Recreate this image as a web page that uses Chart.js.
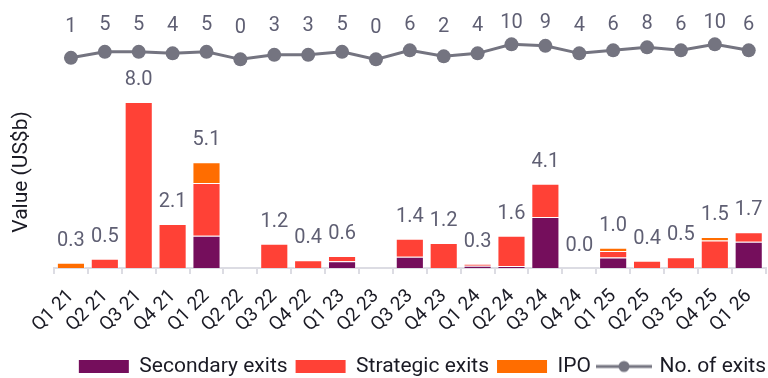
<!DOCTYPE html>
<html>
<head>
<meta charset="utf-8">
<script src="https://cdn.jsdelivr.net/npm/chart.js@4"></script>
<style>
  html, body { margin: 0; padding: 0; background: #fff; }
  #wrap { width: 768px; height: 378px; overflow: hidden; }
</style>
</head>
<body>
<div id="wrap"><canvas id="exitsChart" width="776" height="378"></canvas></div>
<script>
const quarters = ['Q1 21', 'Q2 21', 'Q3 21', 'Q4 21', 'Q1 22', 'Q2 22', 'Q3 22', 'Q4 22', 'Q1 23', 'Q2 23',
  'Q3 23', 'Q4 23', 'Q1 24', 'Q2 24', 'Q3 24', 'Q4 24', 'Q1 25', 'Q2 25', 'Q3 25', 'Q4 25', 'Q1 26'];
const secondaryExits = [null, null, null, null, 1.55, null, null, null, 0.32, null,
  0.54, null, 0.11, 0.1, 2.46, null, 0.5, null, null, null, 1.27];
const strategicExits = [null, 0.45, 8.0, 2.12, 2.55, null, 1.17, 0.37, 0.26, null,
  0.87, 1.2, 0.1, 1.45, 1.6, null, 0.32, 0.35, 0.52, 1.33, 0.45];
const ipoExits = [0.25, null, null, null, 1.0, null, null, null, null, null,
  null, null, null, null, null, null, 0.15, null, null, 0.16, null];
const totalLabels = ['0.3', '0.5', '8.0', '2.1', '5.1', null, '1.2', '0.4', '0.6', null,
  '1.4', '1.2', '0.3', '1.6', '4.1', '0.0', '1.0', '0.4', '0.5', '1.5', '1.7'];
const exitCounts = [1, 5, 5, 4, 5, 0, 3, 3, 5, 0, 6, 2, 4, 10, 9, 4, 6, 8, 6, 10, 6];

const PURPLE = '#750E5C', RED = '#FF4136', ORANGE = '#FF6D00', GREY = '#747480';
const labelGrey = '#5F5F73';
const FONT = 'Roboto, "Noto Sans", sans-serif';

Chart.defaults.font.family = FONT;

// little line+dot icon for the legend
const lineIcon = document.createElement('canvas');
lineIcon.width = 56; lineIcon.height = 14;
const ic = lineIcon.getContext('2d');
ic.strokeStyle = GREY; ic.lineWidth = 3;
ic.beginPath(); ic.moveTo(0, 7); ic.lineTo(56, 7); ic.stroke();
ic.fillStyle = GREY;
ic.beginPath(); ic.arc(28, 7, 5.5, 0, Math.PI * 2); ic.fill();

const valueLabels = {
  id: 'valueLabels',
  afterDatasetsDraw(chart) {
    const ctx = chart.ctx;
    const yScale = chart.scales.y;
    ctx.save();
    ctx.font = '20px ' + FONT;
    ctx.fillStyle = labelGrey;
    ctx.textAlign = 'center';
    ctx.textBaseline = 'middle';
    // totals above the stacks
    const barMeta = chart.getDatasetMeta(0);
    quarters.forEach((q, i) => {
      if (totalLabels[i] === null) return;
      const sum = (secondaryExits[i] || 0) + (strategicExits[i] || 0) + (ipoExits[i] || 0);
      ctx.fillText(totalLabels[i], barMeta.data[i].x, yScale.getPixelForValue(sum) - 22);
    });
    // counts above the line points
    const lineMeta = chart.getDatasetMeta(3);
    lineMeta.data.forEach((pt, i) => {
      ctx.fillText(String(exitCounts[i]), pt.x, 7 + 0.353 * pt.y);
    });
    // axis title, centred on the bar band below the line
    ctx.font = '21px ' + FONT;
    ctx.fillStyle = '#1A1A24';
    ctx.translate(22, (yScale.getPixelForValue(0) + yScale.getPixelForValue(9.25)) / 2);
    ctx.rotate(-Math.PI / 2);
    ctx.fillText('Value (US$b)', 0, 0);
    ctx.restore();
  }
};

const barBorder = 'rgba(255,255,255,0.45)';

new Chart(document.getElementById('exitsChart').getContext('2d'), {
  type: 'bar',
  data: {
    labels: quarters,
    datasets: [
      { label: 'Secondary exits', data: secondaryExits, backgroundColor: PURPLE, borderColor: barBorder, borderWidth: 1, yAxisID: 'y', order: 2 },
      { label: 'Strategic exits', data: strategicExits, backgroundColor: RED, borderColor: barBorder, borderWidth: 1, yAxisID: 'y', order: 2 },
      { label: 'IPO', data: ipoExits, backgroundColor: ORANGE, borderColor: barBorder, borderWidth: 1, yAxisID: 'y', order: 2 },
      {
        type: 'line', label: 'No. of exits', data: exitCounts, yAxisID: 'y1', order: 1,
        borderColor: GREY, backgroundColor: GREY, borderWidth: 3,
        pointStyle: 'circle', pointRadius: 7, pointHoverRadius: 7,
        pointBackgroundColor: GREY, pointBorderColor: GREY, pointBorderWidth: 0
      }
    ]
  },
  options: {
    responsive: false,
    animation: false,
    categoryPercentage: 1,
    barPercentage: 0.83,
    layout: { padding: { top: 10, right: 2, left: 0, bottom: -9 } },
    scales: {
      x: {
        stacked: true,
        grid: { offset: true, drawOnChartArea: false, tickLength: 6, color: '#DCDCE3', lineWidth: 2 },
        border: { color: '#DCDCE3', width: 2 },
        ticks: { color: '#1A1A24', font: { size: 19 }, minRotation: 45, maxRotation: 45, padding: 11, autoSkip: false },
        afterFit(scale) { scale.height = 80; }
      },
      y: {
        stacked: true, min: 0, max: 12.43,
        grid: { display: false }, border: { display: false },
        ticks: { display: false },
        afterFit(scale) { scale.width = 54; }
      },
      y1: {
        display: false, min: -139.1, max: 32.9
      }
    },
    plugins: {
      legend: {
        position: 'bottom',
        align: 'end',
        labels: {
          color: '#1A1A24',
          font: { size: 21 },
          usePointStyle: true,
          pointStyleWidth: 50,
          boxHeight: 13,
          padding: 8,
          generateLabels(chart) {
            return chart.data.datasets.map((ds, i) => ({
              text: ds.label,
              fillStyle: ds.backgroundColor,
              strokeStyle: ds.backgroundColor,
              lineWidth: 0,
              fontColor: '#1A1A24',
              pointStyle: ds.type === 'line' ? lineIcon : 'rect',
              datasetIndex: i,
              hidden: false
            }));
          }
        }
      },
      tooltip: { enabled: false }
    }
  },
  plugins: [valueLabels]
});
</script>
</body>
</html>
